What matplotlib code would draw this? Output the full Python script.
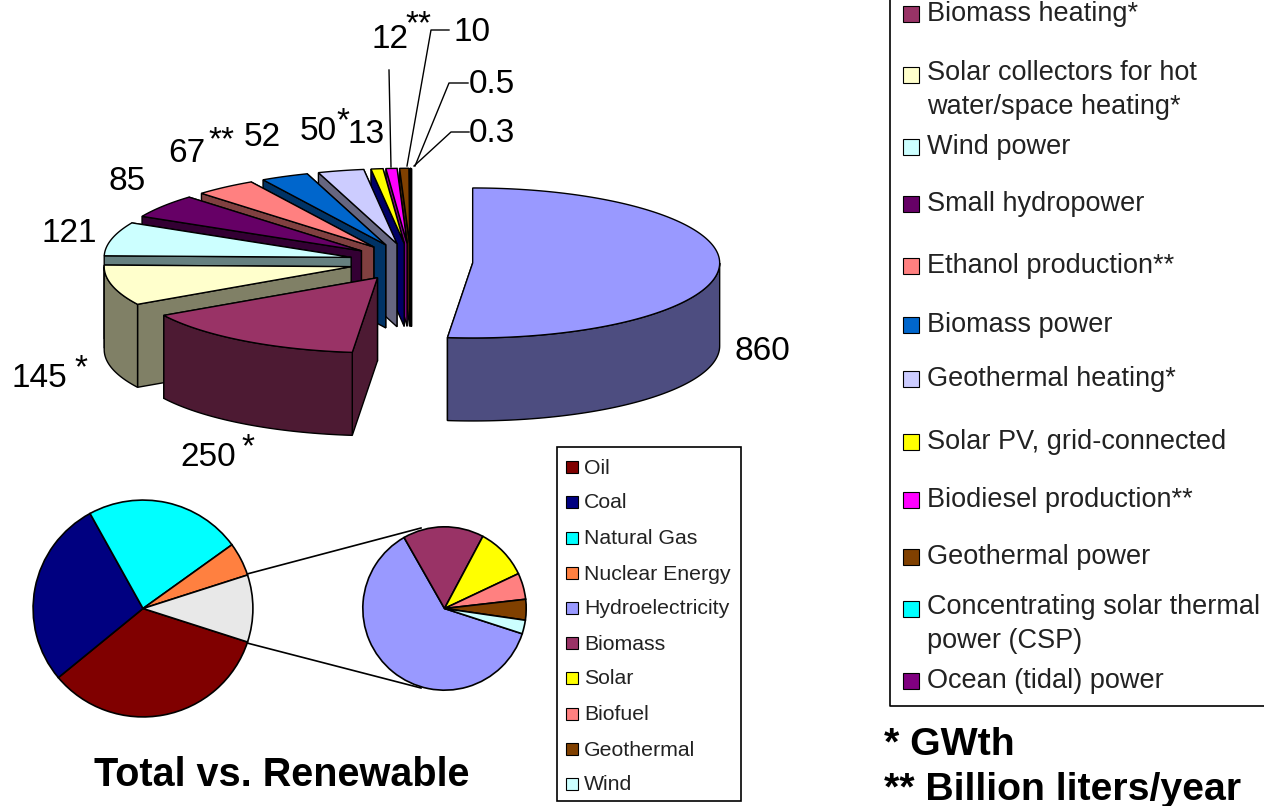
import numpy as np
import matplotlib
matplotlib.use('Agg')
import matplotlib.pyplot as plt
from matplotlib.patches import Polygon, Rectangle

plt.rcParams['font.family'] = ['Liberation Sans', 'DejaVu Sans']

# installed capacity by technology, order follows the exploded pie clockwise from north
capacity = [860, 250, 145, 121, 85, 67, 52, 50, 13, 12, 10, 0.5, 0.3]
top_colors = ['#9999FF', '#993366', '#FFFFCC', '#CCFFFF', '#660066', '#FF8080', '#0066CC',
              '#CCCCFF', '#FFFF00', '#FF00FF', '#804000', '#00FFFF', '#800080']
wall_colors = ['#4D4D80', '#4D1A33', '#808066', '#668080', '#330033', '#804040', '#003366',
               '#666680', '#000066', '#800080', '#402000', '#808000', '#000000']

# value labels around the big pie
value_labels = ['860', '250', '145', '121', '85', '67', '52', '50', '13', '12', '10', '0.5', '0.3']
value_label_x = [735, 180, 12, 42, 108, 168, 244, 300, 348, 372, 454, 469, 469]
value_label_y = [360, 466, 387, 242, 190, 162, 146, 140, 143, 48, 41, 93, 142]
star_labels = ['*', '*', '**', '*', '**']
star_x = [241, 74, 208, 336, 405]
star_y = [456, 377, 149, 130, 33]

# world shares: total energy and the renewable part of it
total_names = ['Oil', 'Coal', 'Natural Gas', 'Nuclear Energy']
total_shares = [34, 28, 23, 5, 10]
total_colors = ['#800000', '#000080', '#00FFFF', '#FF8040', '#E8E8E8']
renew_names = ['Hydroelectricity', 'Biomass', 'Solar', 'Biofuel', 'Geothermal', 'Wind']
renew_shares = [61.7, 16, 10.2, 5.2, 4.1, 2.7]
renew_colors = ['#9999FF', '#993366', '#FFFF00', '#FF8080', '#804000', '#CCFFFF']

tech_names = ['Biomass heating*', 'Solar collectors for hot\nwater/space heating*', 'Wind power',
              'Small hydropower', 'Ethanol production**', 'Biomass power', 'Geothermal heating*',
              'Solar PV, grid-connected', 'Biodiesel production**', 'Geothermal power',
              'Concentrating solar thermal\npower (CSP)', 'Ocean (tidal) power']
tech_colors = ['#993366', '#FFFFCC', '#CCFFFF', '#660066', '#FF8080', '#0066CC', '#CCCCFF',
               '#FFFF00', '#FF00FF', '#804000', '#00FFFF', '#800080']
tech_y = [13, 74, 146, 203, 265, 324, 378, 441, 499, 556, 608, 680]

fig = plt.figure(figsize=(12.64, 8.06), dpi=100)
ax = fig.add_axes([0, 0, 1, 1])
ax.set_xlim(0, 1264)
ax.set_ylim(806, 0)
ax.axis('off')


def arc(cx, cy, rx, ry, a0, a1, drop=0):
    t = np.radians(np.linspace(a0, a1, max(int(abs(a1 - a0)) + 2, 3)))
    return np.column_stack([cx + rx * np.sin(t), cy - ry * np.cos(t) + drop])


def draw_exploded_pie(values, cx=411, cy=262, rx=247, ry=75, depth=83, burst=0.25):
    edges = np.concatenate([[0], np.cumsum(values)]) / np.sum(values) * 360
    # paint from the back of the pie towards the viewer
    for i in range(len(values) - 1, -1, -1):
        a0, a1 = edges[i], edges[i + 1]
        mid = np.radians((a0 + a1) / 2)
        ox = cx + burst * rx * np.sin(mid)
        oy = cy - burst * ry * np.cos(mid)
        for a in (a1, a0):
            p = arc(ox, oy, rx, ry, a, a, 0)[0]
            face = [(ox, oy), p, (p[0], p[1] + depth), (ox, oy + depth)]
            ax.add_patch(Polygon(face, fc=wall_colors[i], ec='black', lw=1, zorder=2))
        lo, hi = max(a0, 90), min(a1, 270)
        if hi > lo:
            upper = arc(ox, oy, rx, ry, lo, hi)
            lower = arc(ox, oy, rx, ry, lo, hi, depth)
            ax.add_patch(Polygon(np.vstack([upper, lower[::-1]]), fc=wall_colors[i],
                                 ec='black', lw=1, zorder=2))
        top = np.vstack([[(ox, oy)], arc(ox, oy, rx, ry, a0, a1)])
        ax.add_patch(Polygon(top, fc=top_colors[i], ec='black', lw=1, zorder=2))


draw_exploded_pie(capacity)

for label, x, y in zip(value_labels, value_label_x, value_label_y):
    ax.text(x, y, label, fontsize=24, va='baseline', ha='left')
for label, x, y in zip(star_labels, star_x, star_y):
    ax.text(x, y, label, fontsize=24, va='baseline', ha='left')

# leader lines for the thin slices
ax.plot([389, 391], [70, 167], color='black', lw=1, zorder=3)
ax.plot([449, 431, 407], [30, 30, 166], color='black', lw=1, zorder=3)
ax.plot([468, 449, 415], [83, 83, 166], color='black', lw=1, zorder=3)
ax.plot([469, 451, 414], [132, 132, 166], color='black', lw=1, zorder=3)


def flat_pie(shares, colors, left, top, w, h, start):
    pie_ax = fig.add_axes([left / 1264, 1 - (top + h) / 806, w / 1264, h / 806])
    pie_ax.pie(shares, colors=colors, startangle=start, counterclock=False, radius=1,
               wedgeprops={'edgecolor': 'black', 'linewidth': 1.2})
    pie_ax.set_aspect('auto')
    pie_ax.set_xlim(-1.01, 1.01)
    pie_ax.set_ylim(-1.01, 1.01)


flat_pie(total_shares, total_colors, 32, 499, 222, 219, -18)
flat_pie(renew_shares, renew_colors, 362, 526, 165, 165, -18)

# connectors from the grey wedge to the renewable pie
ax.plot([247, 421], [574, 528], color='black', lw=1.2)
ax.plot([247, 421], [643, 688], color='black', lw=1.2)

ax.text(282, 775, 'Total vs. Renewable', fontsize=28.5, fontweight='bold', ha='center', va='center')

# small legend under the big pie
ax.add_patch(Rectangle((557, 447), 184, 354, fc='white', ec='black', lw=1.2))
small_names = total_names + renew_names
small_colors = total_colors[:4] + renew_colors
small_y = [468, 503, 539, 574, 609, 644, 679, 715, 750, 785]
for name, color, y in zip(small_names, small_colors, small_y):
    ax.add_patch(Rectangle((566, y - 7), 12, 12, fc=color, ec='black', lw=0.8))
    ax.text(584, y, name, fontsize=15.3, va='center', ha='left', color='#222222')

# technology legend, runs off the top and right of the figure
ax.plot([890, 890, 1264], [0, 706, 706], color='black', lw=1.2)
for name, color, y in zip(tech_names, tech_colors, tech_y):
    ax.add_patch(Rectangle((903, y - 7), 16, 16, fc=color, ec='black', lw=0.8))
    two_lines = '\n' in name
    ax.text(927, y + 16 if two_lines else y + 1, name, fontsize=19.5, va='center', ha='left',
            color='#222222', linespacing=1.42)

ax.text(884, 745, '* GWth', fontsize=28.3, fontweight='bold', va='center', ha='left')
ax.text(884, 790, '** Billion liters/year', fontsize=28.3, fontweight='bold', va='center', ha='left')

fig.savefig('out.png', dpi=100)
